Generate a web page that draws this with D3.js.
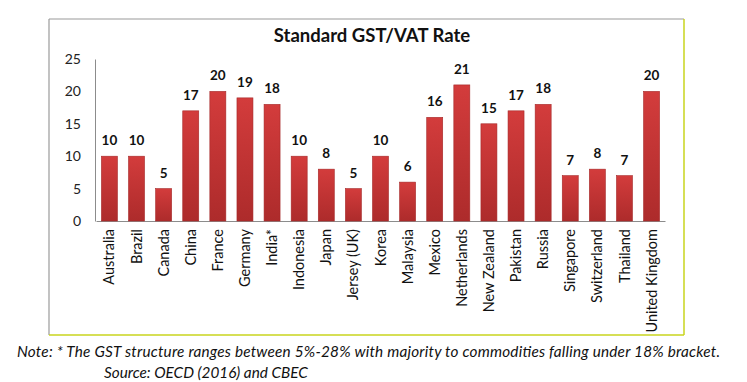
<!DOCTYPE html>
<html>
<head>
<meta charset="utf-8">
<script src="https://cdn.jsdelivr.net/npm/d3@7/dist/d3.min.js"></script>
<style>
  html, body { margin: 0; padding: 0; background: #fff; }
  svg { display: block; }
</style>
</head>
<body>
<svg id="chart" width="747" height="382"></svg>
<script>
const categories = ["Australia","Brazil","Canada","China","France","Germany","India*","Indonesia","Japan","Jersey (UK)","Korea","Malaysia","Mexico","Netherlands","New Zealand","Pakistan","Russia","Singapore","Switzerland","Thailand","United Kingdom"];
const rates = [10,10,5,17,20,19,18,10,8,5,10,6,16,21,15,17,18,7,8,7,20];
const yTicks = [0,5,10,15,20,25];
const titleText = "Standard GST/VAT Rate";
const noteText = "Note: * The GST structure ranges between 5%-28% with majority to commodities falling under 18% bracket.";
const sourceText = "Source: OECD (2016) and CBEC";

const svg = d3.select("#chart");
const font = "Lato, 'Open Sans', sans-serif";

// gradient
const defs = svg.append("defs");
const grad = defs.append("linearGradient").attr("id","barGrad").attr("x1","0").attr("y1","0").attr("x2","0").attr("y2","1");
grad.append("stop").attr("offset","0%").attr("stop-color","#d33c3c");
grad.append("stop").attr("offset","100%").attr("stop-color","#ad2b2b");

// frame
const fx0 = 49, fy0 = 19, fx1 = 684, fy1 = 335;
svg.append("line").attr("x1",fx0).attr("y1",fy0).attr("x2",fx1).attr("y2",fy0).attr("stroke","#9a9a9a").attr("stroke-width",1.2);
svg.append("line").attr("x1",fx0).attr("y1",fy0).attr("x2",fx0).attr("y2",fy1).attr("stroke","#9a9a9a").attr("stroke-width",1.2);
svg.append("line").attr("x1",fx1).attr("y1",fy0).attr("x2",fx1).attr("y2",fy1).attr("stroke","#c9d41e").attr("stroke-width",1.5);
svg.append("line").attr("x1",fx0).attr("y1",fy1).attr("x2",fx1).attr("y2",fy1).attr("stroke","#c9d41e").attr("stroke-width",1.5);

const x = d3.scaleBand().domain(categories).range([96, 665]).paddingInner(0.41).paddingOuter(0.2);
const y = d3.scaleLinear().domain([0, 25]).range([221, 59]);

// title
svg.append("text").attr("x", 372).attr("y", 42).attr("text-anchor","middle")
  .attr("font-family", font).attr("font-weight","bold").attr("font-size", 18.5).attr("fill","#111")
  .text(titleText);

// y axis
const yAxis = svg.append("g").attr("transform","translate(95,0)")
  .call(d3.axisLeft(y).tickValues(yTicks).tickSize(0).tickPadding(14));
yAxis.select(".domain").attr("stroke","#8c8c8c");
yAxis.selectAll("text").attr("font-family", font).attr("font-size", 14).attr("fill","#222");

// x axis
const xAxis = svg.append("g").attr("transform","translate(0,221)")
  .call(d3.axisBottom(x).tickSize(0).tickPadding(0));
xAxis.select(".domain").attr("stroke","#8c8c8c");
xAxis.selectAll("text")
  .attr("font-family", font).attr("font-size", 14.5).attr("fill","#111")
  .attr("text-anchor","end")
  .attr("transform","rotate(-90)")
  .attr("dx","-8px").attr("dy","0.35em")
  .attr("x", 0).attr("y", 0);

// bars
svg.append("g").selectAll("rect").data(rates).join("rect")
  .attr("x", (d,i) => x(categories[i]))
  .attr("y", d => y(d))
  .attr("width", x.bandwidth())
  .attr("height", d => y(0) - y(d))
  .attr("fill","url(#barGrad)")
  .attr("stroke","#a52828").attr("stroke-width",0.6);

// value labels
svg.append("g").selectAll("text").data(rates).join("text")
  .attr("x", (d,i) => x(categories[i]) + x.bandwidth()/2)
  .attr("y", d => y(d) - 11)
  .attr("text-anchor","middle")
  .attr("font-family", font).attr("font-weight","bold").attr("font-size", 13.5).attr("fill","#111")
  .text(d => d);

// note
svg.append("text").attr("x", 17).attr("y", 357)
  .attr("font-family", font).attr("font-style","italic").attr("font-size", 15.3).attr("fill","#111")
  .attr("textLength", 703).attr("lengthAdjust","spacing")
  .text(noteText);
svg.append("text").attr("x", 104).attr("y", 378)
  .attr("font-family", font).attr("font-style","italic").attr("font-size", 15.3).attr("fill","#111")
  .text(sourceText);
</script>
</body>
</html>
